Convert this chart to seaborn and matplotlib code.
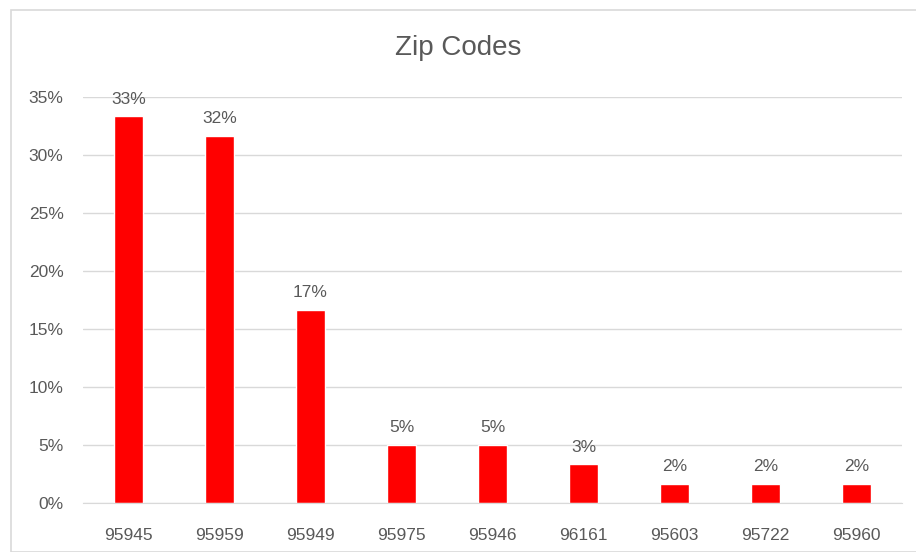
import numpy as np
import pandas as pd
import seaborn as sns
from matplotlib import pyplot as plt
from matplotlib.patches import Rectangle
from matplotlib.ticker import PercentFormatter

zips = ["95945", "95959", "95949", "95975", "95946", "96161", "95603", "95722", "95960"]
counts = [20, 19, 10, 3, 3, 2, 1, 1, 1]
share = np.array(counts) / sum(counts)

df = pd.DataFrame({"zip": zips, "share": share})

sns.set_style("white")
plt.rcParams['font.family'] = ['Liberation Sans', 'DejaVu Sans']
grey = "#595959"

fig = plt.figure(figsize=(9.16, 5.52), dpi=100)
ax = fig.add_axes([0.0906, 0.0888, 0.894, 0.7355])

sns.barplot(data=df, x="zip", y="share", color="#ff0000", saturation=1, width=0.31, ax=ax)

ax.set_ylim(0, 0.35)
ax.set_yticks(np.arange(0, 0.351, 0.05))
ax.yaxis.set_major_formatter(PercentFormatter(1.0, decimals=0))
ax.set_xlim(-0.5, len(zips) - 0.5)
ax.grid(axis="y", color="#d9d9d9", linewidth=1)
ax.set_axisbelow(True)
for s in ["top", "right", "left"]:
    ax.spines[s].set_visible(False)
ax.spines["bottom"].set_color("#d9d9d9")
ax.tick_params(axis="both", length=0, labelsize=12.5, colors=grey)
ax.tick_params(axis="y", pad=14)
ax.tick_params(axis="x", pad=18)
ax.set_xlabel("")
ax.set_ylabel("")

for i, v in enumerate(share):
    ax.annotate(f"{v:.0%}", (i, v), xytext=(0, 7), textcoords="offset points",
                ha="center", va="bottom", fontsize=12.5, color=grey)

fig.text(0.5, 0.913, "Zip Codes", ha="center", va="center", fontsize=20, color=grey)

# chart border
fig.patches.append(Rectangle((11 / 916, 0), 1, 1 - 10 / 552, transform=fig.transFigure,
                             fill=False, edgecolor="#d9d9d9", linewidth=1.2))

fig.savefig("out.png", dpi=100)
